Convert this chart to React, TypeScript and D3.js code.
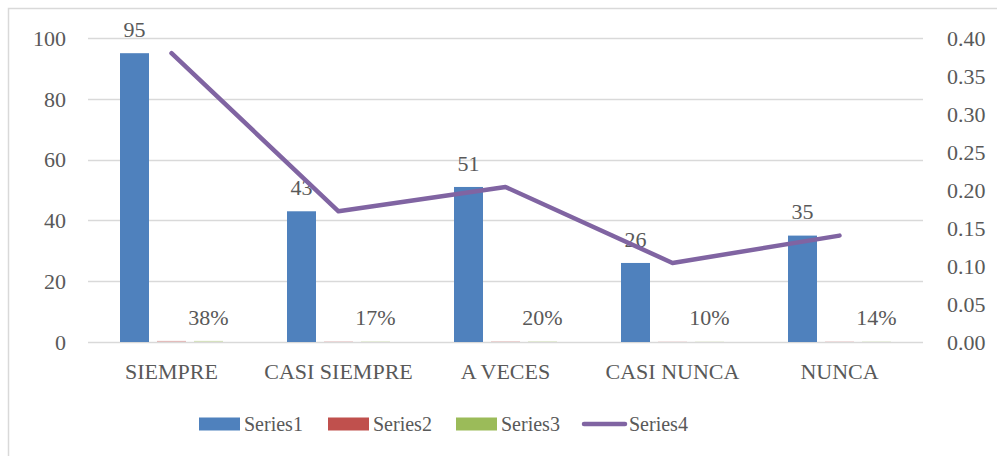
import React, { useEffect, useRef } from 'react';
import * as d3 from 'd3';

const categories = ['SIEMPRE', 'CASI SIEMPRE', 'A VECES', 'CASI NUNCA', 'NUNCA'];
const series1 = [95, 43, 51, 26, 35];
const series2 = [0.38, 0.172, 0.204, 0.104, 0.14];
const series3 = [0.38, 0.172, 0.204, 0.104, 0.14];
const series4 = [0.38, 0.172, 0.204, 0.104, 0.14];
const leftTicks = [0, 20, 40, 60, 80, 100];
const rightTicks = [0, 0.05, 0.1, 0.15, 0.2, 0.25, 0.3, 0.35, 0.4];
const legendItems = ['Series1', 'Series2', 'Series3', 'Series4'];

const COLORS = ['#4f81bd', '#c0504d', '#9bbb59', '#8064a2'];
const TEXT = '#595959';
const GRID = '#d9d9d9';
const FONT = '"Liberation Serif", "Times New Roman", serif';

const W = 997;
const H = 456;

export default function App() {
  const svgRef = useRef<SVGSVGElement>(null);

  useEffect(() => {
    document.body.style.margin = '0';
    if (!svgRef.current) return;
    const svg = d3.select(svgRef.current);
    svg.selectAll('*').remove();

    const plot = { left: 88, right: 923, top: 38, bottom: 342 };

    // chart area border (only top/left edges fall inside the picture)
    svg.append('rect')
      .attr('x', 8.5).attr('y', 8.5)
      .attr('width', 1000).attr('height', 500)
      .attr('fill', '#fff')
      .attr('stroke', GRID)
      .attr('stroke-width', 1.5);

    const x = d3.scaleBand<string>().domain(categories).range([plot.left, plot.right]);
    const sub = d3.scaleBand<number>().domain([0, 1, 2]).range([-51.5, 51.5]).paddingInner(8 / 37);
    const yL = d3.scaleLinear().domain([0, 100]).range([plot.bottom, plot.top]);
    const yR = d3.scaleLinear().domain([0, 0.4]).range([plot.bottom, plot.top]);
    const cx = (c: string) => (x(c) as number) + x.bandwidth() / 2;

    // gridlines
    svg.append('g')
      .selectAll('line')
      .data(leftTicks)
      .join('line')
      .attr('x1', plot.left).attr('x2', plot.right)
      .attr('y1', (d) => Math.round(yL(d)) + 0.5)
      .attr('y2', (d) => Math.round(yL(d)) + 0.5)
      .attr('stroke', GRID)
      .attr('stroke-width', 1.5);

    // left axis labels
    svg.append('g')
      .selectAll('text')
      .data(leftTicks)
      .join('text')
      .attr('x', 66)
      .attr('y', (d) => yL(d))
      .attr('dy', '0.35em')
      .attr('text-anchor', 'end')
      .attr('fill', TEXT)
      .style('font-family', FONT)
      .style('font-size', '22px')
      .text((d) => d3.format('d')(d));

    // right axis labels
    svg.append('g')
      .selectAll('text')
      .data(rightTicks)
      .join('text')
      .attr('x', 947)
      .attr('y', (d) => yR(d))
      .attr('dy', '0.35em')
      .attr('text-anchor', 'start')
      .attr('fill', TEXT)
      .style('font-family', FONT)
      .style('font-size', '22px')
      .text((d) => d3.format('.2f')(d));

    // category labels
    svg.append('g')
      .selectAll('text')
      .data(categories)
      .join('text')
      .attr('x', (d) => cx(d))
      .attr('y', 371)
      .attr('dy', '0.35em')
      .attr('text-anchor', 'middle')
      .attr('fill', TEXT)
      .style('font-family', FONT)
      .style('font-size', '22px')
      .text((d) => d);

    // bars
    const barSeries = [series1, series2, series3];
    barSeries.forEach((vals, si) => {
      svg.append('g')
        .selectAll('rect')
        .data(vals)
        .join('rect')
        .attr('x', (_, i) => cx(categories[i]) + (sub(si) as number))
        .attr('width', sub.bandwidth())
        .attr('y', (d) => yL(d))
        .attr('height', (d) => yL(0) - yL(d))
        .attr('fill', COLORS[si])
        .attr('fill-opacity', si === 0 ? 1 : 0.35);
    });

    // Series1 value labels
    svg.append('g')
      .selectAll('text')
      .data(series1)
      .join('text')
      .attr('x', (_, i) => cx(categories[i]) + (sub(0) as number) + sub.bandwidth() / 2)
      .attr('y', (d) => yL(d) - 24)
      .attr('dy', '0.35em')
      .attr('text-anchor', 'middle')
      .attr('fill', TEXT)
      .style('font-family', FONT)
      .style('font-size', '22px')
      .text((d) => d);

    // Series3 percent labels
    svg.append('g')
      .selectAll('text')
      .data(series3)
      .join('text')
      .attr('x', (_, i) => cx(categories[i]) + (sub(2) as number) + sub.bandwidth() / 2)
      .attr('y', (d) => yL(d) - 24)
      .attr('dy', '0.35em')
      .attr('text-anchor', 'middle')
      .attr('fill', TEXT)
      .style('font-family', FONT)
      .style('font-size', '22px')
      .text((d) => d3.format('.0%')(d));

    // Series4 line on right axis
    const line = d3.line<number>()
      .x((_, i) => cx(categories[i]))
      .y((d) => yR(d));
    svg.append('path')
      .datum(series4)
      .attr('d', line)
      .attr('fill', 'none')
      .attr('stroke', COLORS[3])
      .attr('stroke-width', 4.5)
      .attr('stroke-linecap', 'round')
      .attr('stroke-linejoin', 'round');

    // legend
    const legendX = [199, 328, 456, 582];
    const legendY = 424;
    const lg = svg.append('g');
    legendItems.forEach((name, i) => {
      if (i < 3) {
        lg.append('rect')
          .attr('x', legendX[i]).attr('y', legendY - 6.5)
          .attr('width', 41).attr('height', 13)
          .attr('fill', COLORS[i]);
      } else {
        lg.append('line')
          .attr('x1', legendX[i] + 2).attr('x2', legendX[i] + 43)
          .attr('y1', legendY).attr('y2', legendY)
          .attr('stroke', COLORS[i])
          .attr('stroke-width', 4.5)
          .attr('stroke-linecap', 'round');
      }
      lg.append('text')
        .attr('x', legendX[i] + (i < 3 ? 45 : 47))
        .attr('y', legendY)
        .attr('dy', '0.35em')
        .attr('fill', TEXT)
        .style('font-family', FONT)
        .style('font-size', '20px')
        .text(name);
    });
  }, []);

  return <svg ref={svgRef} width={W} height={H} style={{ display: 'block' }} />;
}
